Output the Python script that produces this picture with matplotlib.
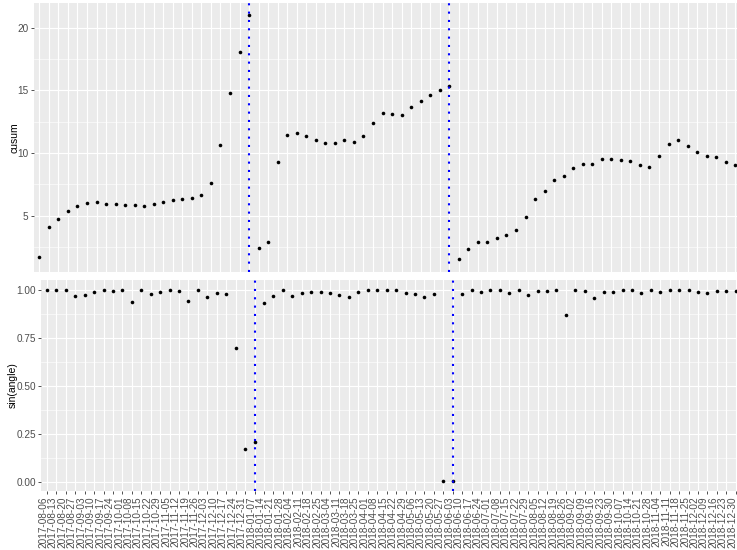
import numpy as np
import pandas as pd
import matplotlib
matplotlib.use('Agg')
import matplotlib.pyplot as plt
import matplotlib.transforms as mtransforms

plt.rcParams['font.family'] = ['Liberation Sans', 'DejaVu Sans']

# weekly observations
dates = pd.date_range('2017-08-06', periods=74, freq='7D').strftime('%Y-%m-%d').tolist()

cusum = [1.73, 4.10, 4.71, 5.40, 5.77, 5.99, 6.09, 5.93, 5.93, 5.83,
         5.83, 5.80, 5.91, 6.07, 6.28, 6.33, 6.44, 6.68, 7.61, 10.67,
         14.81, 18.09, 21.00, 2.40, 2.88, 9.28, 11.44, 11.62, 11.36, 11.07,
         10.80, 10.80, 11.01, 10.88, 11.36, 12.37, 13.22, 13.11, 13.03, 13.67,
         14.15, 14.63, 15.03, 15.37, 1.52, 2.37, 2.88, 2.90, 3.25, 3.48,
         3.86, 4.90, 6.31, 7.00, 7.85, 8.14, 8.78, 9.15, 9.15, 9.52,
         9.52, 9.44, 9.36, 9.05, 8.91, 9.76, 10.75, 11.04, 10.59, 10.06,
         9.76, 9.66, 9.26, 9.07]

sin_angle = [1.000, 1.000, 1.000, 0.969, 0.972, 0.988, 1.000, 0.995, 0.997, 0.933,
             0.997, 0.976, 0.988, 0.998, 0.993, 0.940, 0.997, 0.962, 0.981, 0.979,
             0.696, 0.169, 0.210, 0.931, 0.969, 1.000, 0.969, 0.981, 0.988, 0.990,
             0.983, 0.972, 0.964, 0.990, 0.997, 1.000, 1.000, 1.000, 0.984, 0.976,
             0.964, 0.978, 0.003, 0.003, 0.979, 0.997, 0.988, 0.997, 1.000, 0.981,
             1.000, 0.972, 0.991, 0.991, 1.000, 0.869, 1.000, 0.995, 0.957, 0.988,
             0.988, 0.997, 1.000, 0.981, 1.000, 0.988, 0.998, 0.998, 0.998, 0.988,
             0.981, 0.991, 0.995, 0.993]

change_points = ['2018-01-07', '2018-06-03']

W, H = 737, 550
fig = plt.figure(figsize=(W / 100, H / 100), dpi=100)

x = np.arange(len(dates))
cp_idx = [dates.index(d) for d in change_points]


def px_axes(left, right, top, bottom):
    return fig.add_axes([left / W, 1 - bottom / H, (right - left) / W, (bottom - top) / H])


def style(ax, yticks, yminor, vals):
    span = max(vals) - min(vals)
    ax.set_facecolor('#EBEBEB')
    for s in ax.spines.values():
        s.set_visible(False)
    ax.set_xlim(-0.6, len(dates) - 1 + 0.6)
    ax.set_ylim(min(vals) - 0.05 * span, max(vals) + 0.05 * span)
    ax.set_xticks(x)
    ax.set_yticks(yticks)
    ax.set_yticks(yminor, minor=True)
    ax.grid(True, which='major', color='white', lw=0.85)
    ax.grid(True, which='minor', axis='y', color='white', lw=0.42)
    ax.set_axisbelow(True)
    ax.tick_params(which='major', length=2.2, width=0.6, color='#333333',
                   labelsize=7.2, labelcolor='#4D4D4D', pad=1.5)
    ax.tick_params(which='minor', length=0)


# cusum panel
ax1 = px_axes(33.6, 741.0, 3.0, 271.7)
style(ax1, [5, 10, 15, 20], [2.5, 7.5, 12.5, 17.5], cusum)
ax1.plot(x, cusum, 'o', color='black', ms=2.6, mew=0, zorder=3)
for i in cp_idx:
    ax1.axvline(i, color='blue', lw=1.5, ls=(0, (1, 3)), zorder=4)
ax1.tick_params(axis='x', bottom=False, labelbottom=False)
ax1.set_yticklabels(['5', '10', '15', '20'])
ax1.set_ylabel('cusum', fontsize=7.5, color='black')
ax1.yaxis.set_label_coords((19 - 33.6) / (741.0 - 33.6), 0.5)

# sin(angle) panel
ax2 = px_axes(41.3, 741.4, 280.0, 491.0)
style(ax2, [0, 0.25, 0.5, 0.75, 1.0], [0.125, 0.375, 0.625, 0.875], sin_angle)
ax2.plot(x, sin_angle, 'o', color='black', ms=2.6, mew=0, zorder=3)
for i in cp_idx:
    ax2.axvline(i, color='blue', lw=1.5, ls=(0, (1, 3)), zorder=4)
ax2.set_yticklabels(['0.00', '0.25', '0.50', '0.75', '1.00'])
ax2.set_xticklabels(dates, rotation=90, ha='center', va='top')
shift = mtransforms.ScaledTranslation(-3.5 / 100, 0, fig.dpi_scale_trans)
for lab in ax2.get_xticklabels():
    lab.set_transform(lab.get_transform() + shift)
ax2.set_ylabel('sin(angle)', fontsize=7.5, color='black')
ax2.yaxis.set_label_coords((17.5 - 41.3) / (741.4 - 41.3), 0.5)

fig.savefig('out.png', dpi=100, facecolor='white')
